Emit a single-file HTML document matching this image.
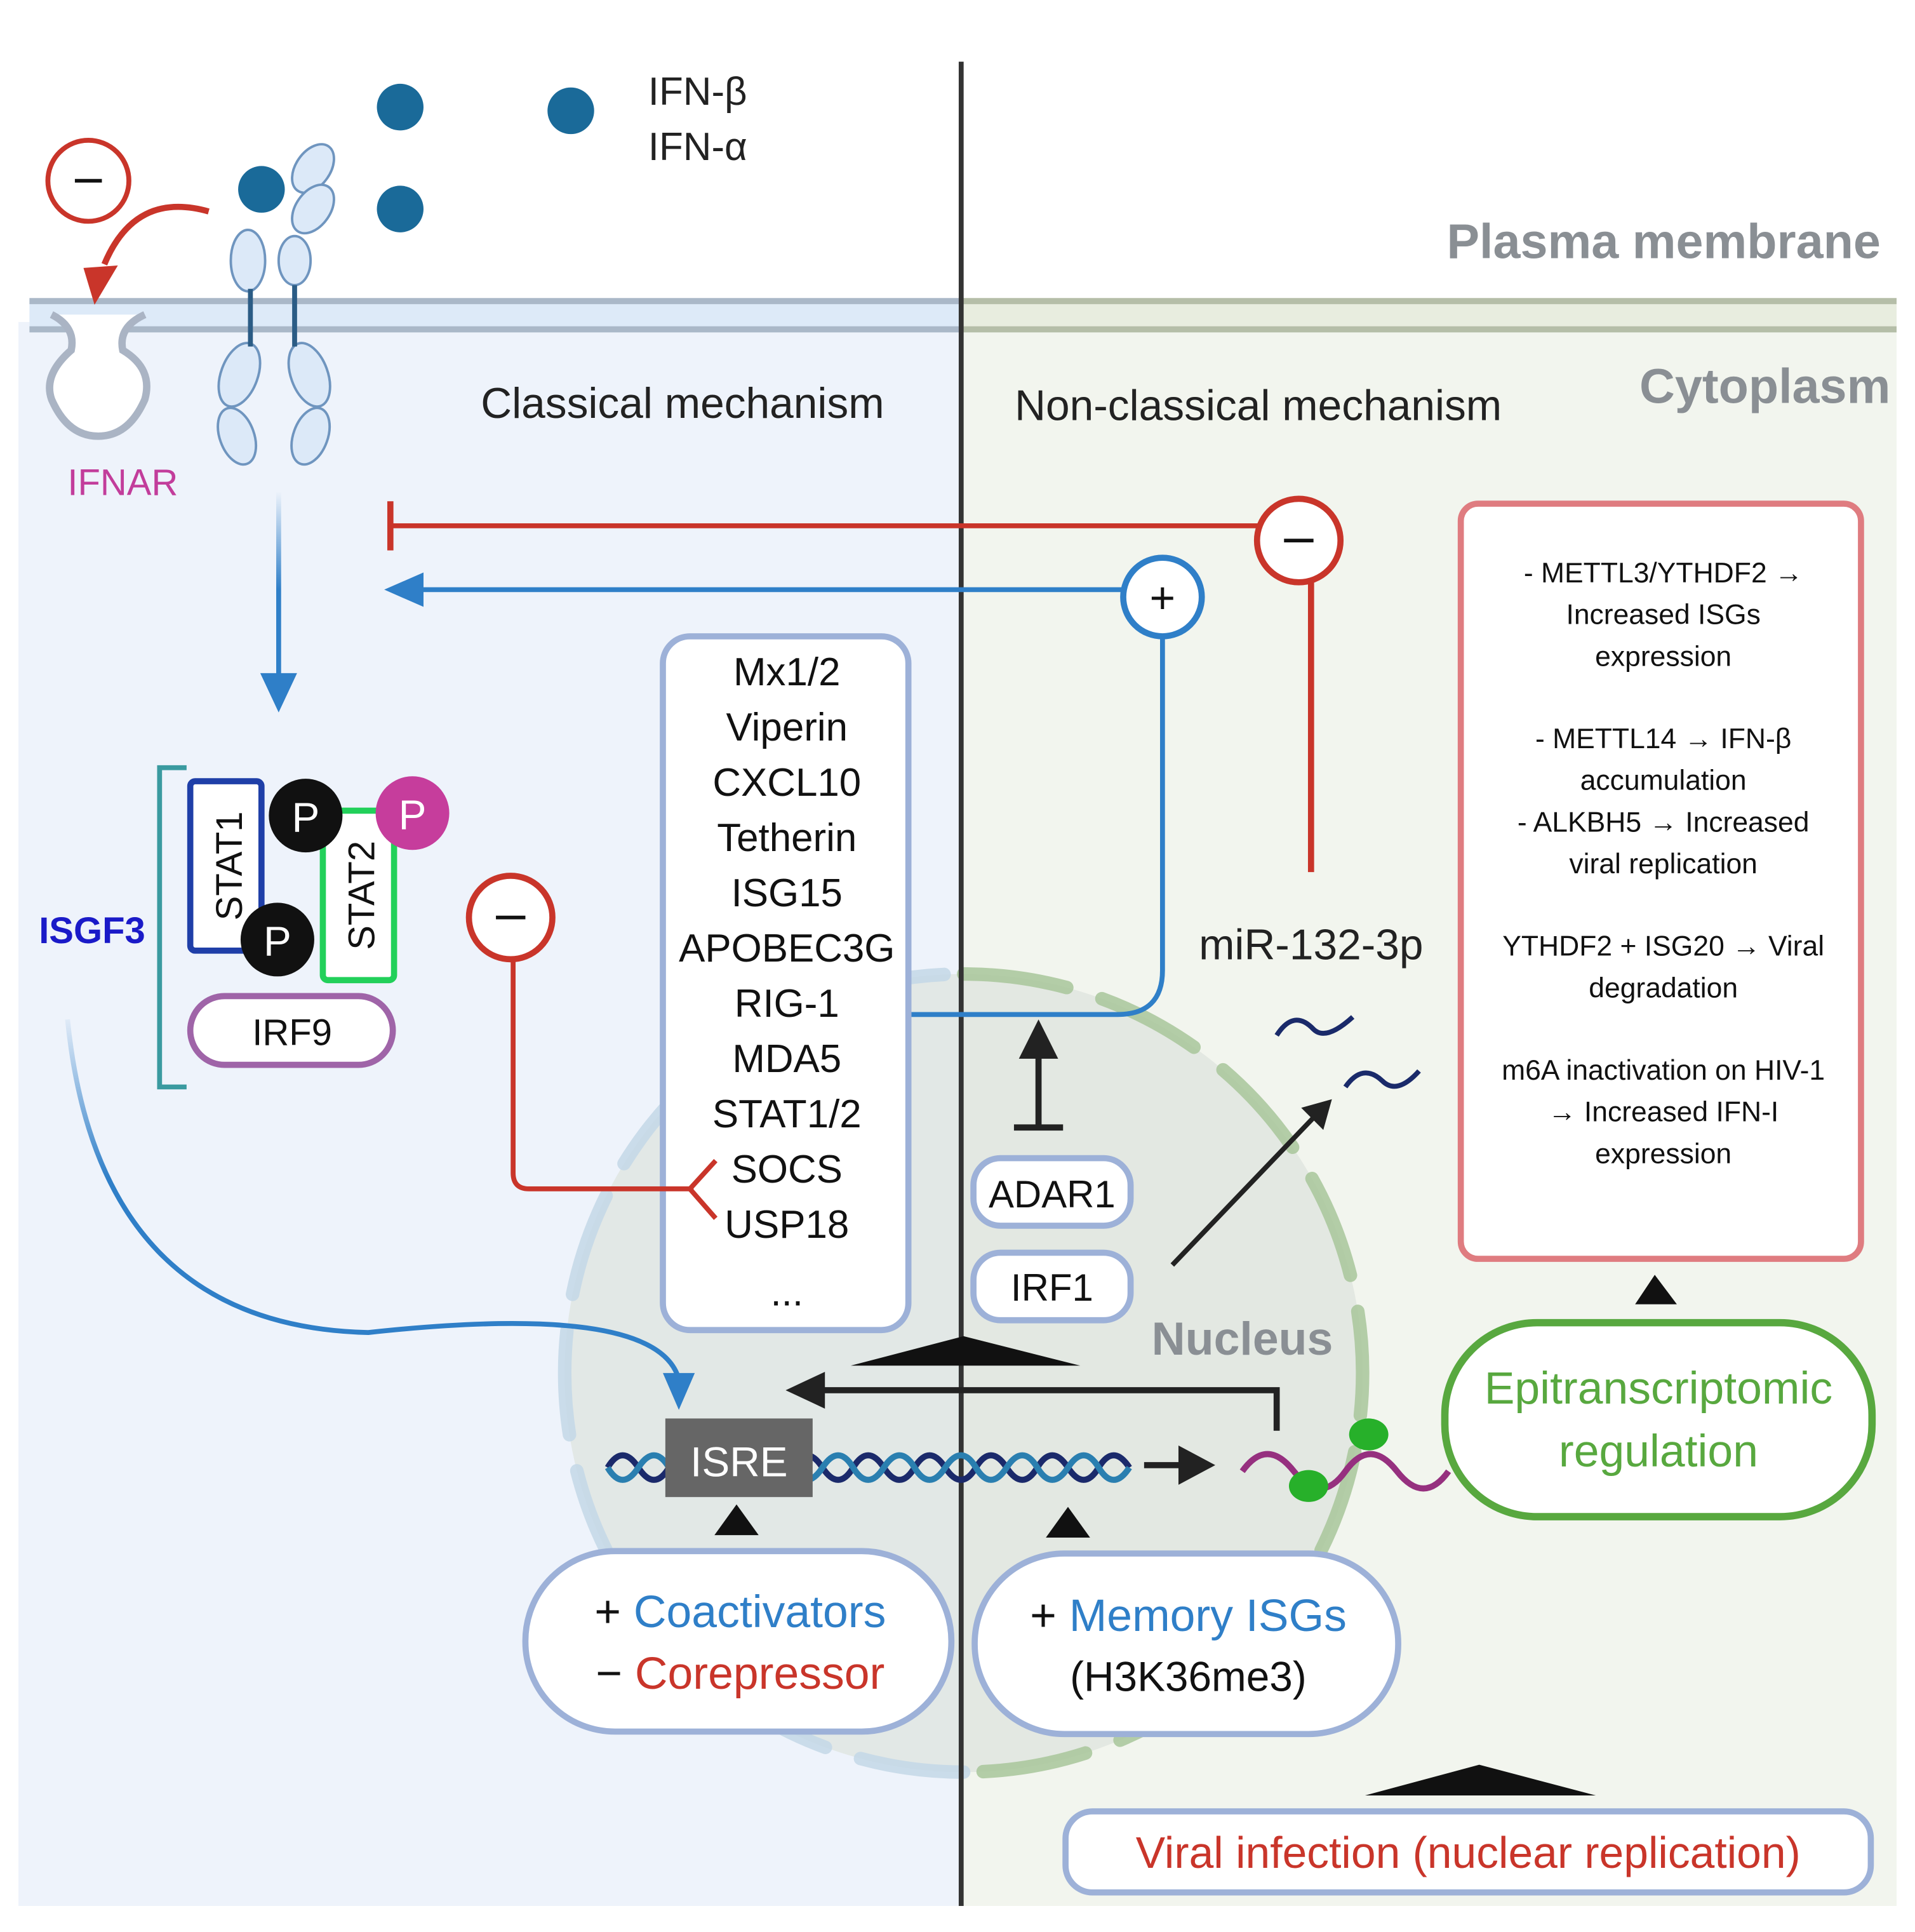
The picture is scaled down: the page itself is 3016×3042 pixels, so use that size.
<!DOCTYPE html>
<html><head><meta charset="utf-8"><style>
html,body{margin:0;padding:0;background:#fff}
svg{display:block}
text{font-family:"Liberation Sans","DejaVu Sans",sans-serif}
</style></head><body>
<svg width="3016" height="3042" viewBox="0 0 1560 1573" xmlns="http://www.w3.org/2000/svg">
<defs>
<linearGradient id="fadeB" gradientUnits="userSpaceOnUse" x1="0" y1="400" x2="0" y2="480"><stop offset="0" stop-color="#2f7fc8" stop-opacity="0"/><stop offset="1" stop-color="#2f7fc8"/></linearGradient>
<linearGradient id="fadeC" gradientUnits="userSpaceOnUse" x1="0" y1="820" x2="0" y2="960"><stop offset="0" stop-color="#2f7fc8" stop-opacity="0"/><stop offset="1" stop-color="#2f7fc8"/></linearGradient>
</defs>
<rect width="1560" height="1573" fill="#fff"/>
<rect x="15" y="262" width="768" height="1290" fill="#eef3fb"/>
<rect x="783" y="262" width="762" height="1290" fill="#f2f5ee"/>
<rect x="24" y="243" width="759" height="27" fill="#ddeaf8"/>
<line x1="24" y1="245" x2="783" y2="245" stroke="#aab8c8" stroke-width="5"/>
<line x1="24" y1="268" x2="783" y2="268" stroke="#aab8c8" stroke-width="5"/>
<rect x="783" y="243" width="762" height="27" fill="#e8eddf"/>
<line x1="783" y1="245" x2="1545" y2="245" stroke="#b5bea8" stroke-width="5"/>
<line x1="783" y1="268" x2="1545" y2="268" stroke="#b5bea8" stroke-width="5"/>
<text x="1532" y="210" text-anchor="end" font-size="40" font-weight="bold" fill="#8a8f94">Plasma membrane</text>
<text x="1540" y="328" text-anchor="end" font-size="40" font-weight="bold" fill="#8a8f94">Cytoplasm</text>
<circle cx="785" cy="1118" r="325" fill="#dde3dd" fill-opacity="0.7"/>
<path d="M785,793 A325,325 0 0 1 785,1443" fill="none" stroke="#a8c69a" stroke-width="11" stroke-dasharray="85 30" stroke-linecap="round" opacity="0.85"/>
<path d="M785,1443 A325,325 0 0 1 785,793" fill="none" stroke="#c3d7e6" stroke-width="11" stroke-dasharray="85 30" stroke-linecap="round" opacity="0.85"/>
<text x="1012" y="1103" text-anchor="middle" font-size="38" font-weight="bold" fill="#8a8f94">Nucleus</text>
<line x1="783" y1="50" x2="783" y2="1552" stroke="#333" stroke-width="4"/>
<circle cx="326" cy="87" r="19" fill="#1a6a99"/>
<circle cx="465" cy="90" r="19" fill="#1a6a99"/>
<circle cx="326" cy="170" r="19" fill="#1a6a99"/>
<circle cx="213" cy="154" r="19" fill="#1a6a99"/>
<text x="528" y="85" font-size="32" fill="#222">IFN-β</text>
<text x="528" y="130" font-size="32" fill="#222">IFN-α</text>
<g fill="#dce9f8" stroke="#6f95bf" stroke-width="2">
<ellipse cx="255" cy="137" rx="14" ry="22" transform="rotate(35 255 137)"/>
<ellipse cx="255" cy="170" rx="14" ry="22" transform="rotate(35 255 170)"/>
<ellipse cx="202" cy="212" rx="14" ry="25"/>
<ellipse cx="240" cy="212" rx="13" ry="20"/>
<ellipse cx="195" cy="305" rx="15" ry="27" transform="rotate(20 195 305)"/>
<ellipse cx="252" cy="305" rx="15" ry="27" transform="rotate(-20 252 305)"/>
<ellipse cx="193" cy="355" rx="14" ry="24" transform="rotate(-20 193 355)"/>
<ellipse cx="253" cy="355" rx="14" ry="24" transform="rotate(20 253 355)"/>
</g>
<line x1="204" y1="235" x2="204" y2="282" stroke="#2b5c85" stroke-width="4"/>
<line x1="240" y1="232" x2="240" y2="282" stroke="#2b5c85" stroke-width="4"/>
<text x="100" y="403" text-anchor="middle" font-size="30" fill="#c23d9b">IFNAR</text>
<path d="M42,256 Q62,266 58,285 Q35,305 42,325 Q55,355 80,355 Q105,355 118,325 Q125,300 100,285 Q96,266 118,256" fill="#fff" stroke="#aab4c4" stroke-width="6"/>
<circle cx="72" cy="147" r="33" fill="#fff" stroke="#c9352a" stroke-width="4"/>
<line x1="61" y1="147" x2="83" y2="147" stroke="#111" stroke-width="3"/>
<path d="M170,172 Q110,155 85,215" fill="none" stroke="#c9352a" stroke-width="5"/>
<polygon points="68,218 96,216 77,248" fill="#c9352a"/>
<text x="556" y="340" text-anchor="middle" font-size="35" fill="#222">Classical mechanism</text>
<text x="1025" y="342" text-anchor="middle" font-size="35" fill="#222">Non-classical mechanism</text>
<rect x="225" y="400" width="4" height="152" fill="url(#fadeB)"/>
<polygon points="212,548 242,548 227,580" fill="#2f7fc8"/>
<line x1="318" y1="428" x2="1025" y2="428" stroke="#c9352a" stroke-width="4"/>
<line x1="318" y1="408" x2="318" y2="448" stroke="#c9352a" stroke-width="5"/>
<circle cx="1058" cy="440" r="34" fill="#fff" stroke="#c9352a" stroke-width="5"/>
<line x1="1046" y1="440" x2="1070" y2="440" stroke="#111" stroke-width="3"/>
<line x1="1068" y1="474" x2="1068" y2="710" stroke="#c9352a" stroke-width="5"/>
<line x1="340" y1="480" x2="915" y2="480" stroke="#2f7fc8" stroke-width="4"/>
<polygon points="345,466 345,494 313,480" fill="#2f7fc8"/>
<circle cx="947" cy="486" r="32" fill="#fff" stroke="#2f7fc8" stroke-width="5"/>
<text x="947" y="499" text-anchor="middle" font-size="36" fill="#111">+</text>
<path d="M947,518 L947,790 Q947,826 910,826 L725,826" fill="none" stroke="#2f7fc8" stroke-width="4"/>
<path d="M713,802 L738,826 L713,850" fill="none" stroke="#2f7fc8" stroke-width="4"/>
<rect x="540" y="518" width="200" height="565" rx="22" fill="#fff" stroke="#9db1d8" stroke-width="5"/>
<g font-size="32" fill="#111" text-anchor="middle">
<text x="641" y="558">Mx1/2</text><text x="641" y="603">Viperin</text><text x="641" y="648">CXCL10</text>
<text x="641" y="693">Tetherin</text><text x="641" y="738">ISG15</text><text x="641" y="783">APOBEC3G</text>
<text x="641" y="828">RIG-1</text><text x="641" y="873">MDA5</text><text x="641" y="918">STAT1/2</text>
<text x="641" y="963">SOCS</text><text x="641" y="1008">USP18</text><text x="641" y="1063">...</text>
</g>
<circle cx="416" cy="747" r="34" fill="#fff" stroke="#c9352a" stroke-width="5"/>
<line x1="404" y1="747" x2="428" y2="747" stroke="#111" stroke-width="3"/>
<path d="M418,781 L418,955 Q418,968 431,968 L565,968" fill="none" stroke="#c9352a" stroke-width="4"/>
<path d="M583,945 L562,968 L583,992" fill="none" stroke="#c9352a" stroke-width="4"/>
<path d="M152,625 L130,625 L130,885 L152,885" fill="none" stroke="#3a9aa0" stroke-width="4"/>
<text x="75" y="768" text-anchor="middle" font-size="30" font-weight="bold" fill="#1a1ac8">ISGF3</text>
<rect x="155" y="636" width="58" height="138" rx="4" fill="#fff" stroke="#1f3fa8" stroke-width="5"/>
<text transform="translate(197 705) rotate(-90)" text-anchor="middle" font-size="30" fill="#111">STAT1</text>
<rect x="263" y="660" width="58" height="138" rx="4" fill="#fff" stroke="#22d05a" stroke-width="5"/>
<text transform="translate(305 729) rotate(-90)" text-anchor="middle" font-size="30" fill="#111">STAT2</text>
<circle cx="249" cy="664" r="30" fill="#111"/><text x="249" y="677" text-anchor="middle" font-size="34" fill="#fff">P</text>
<circle cx="336" cy="662" r="30" fill="#c63d9c"/><text x="336" y="675" text-anchor="middle" font-size="34" fill="#fff">P</text>
<circle cx="226" cy="765" r="30" fill="#111"/><text x="226" y="778" text-anchor="middle" font-size="34" fill="#fff">P</text>
<rect x="155" y="811" width="165" height="56" rx="28" fill="#fff" stroke="#9f64a8" stroke-width="5"/>
<text x="238" y="851" text-anchor="middle" font-size="30" fill="#111">IRF9</text>
<path d="M55,830 Q80,1080 300,1085 Q530,1060 552,1120" fill="none" stroke="url(#fadeC)" stroke-width="4"/>
<polygon points="540,1118 566,1118 553,1148" fill="#2f7fc8"/>
<g fill="none" stroke-width="5">
<path d="M495,1195 q12,-20 25,0 t25,0 t25,0 t25,0 t25,0 t25,0 t25,0 t25,0 t25,0 t25,0 t25,0 t25,0 t25,0 t25,0 t25,0 t25,0 t25,0" stroke="#1b2a6b"/>
<path d="M495,1195 q12,20 25,0 t25,0 t25,0 t25,0 t25,0 t25,0 t25,0 t25,0 t25,0 t25,0 t25,0 t25,0 t25,0 t25,0 t25,0 t25,0 t25,0" stroke="#2a7fb0"/>
</g>
<rect x="542" y="1155" width="120" height="64" fill="#666"/>
<text x="602" y="1202" text-anchor="middle" font-size="34" fill="#fff">ISRE</text>
<line x1="932" y1="1193" x2="965" y2="1193" stroke="#222" stroke-width="5"/>
<polygon points="960,1177 990,1193 960,1209" fill="#222"/>
<path d="M1012,1198 q20,-28 42,0 t42,0 t42,0 t42,0" fill="none" stroke="#96307f" stroke-width="5"/>
<ellipse cx="1066" cy="1210" rx="16" ry="13" fill="#27b02a"/>
<ellipse cx="1115" cy="1168" rx="16" ry="13" fill="#27b02a"/>
<path d="M1040,1165 L1040,1132 L665,1132" fill="none" stroke="#222" stroke-width="5"/>
<polygon points="672,1117 672,1147 640,1132" fill="#222"/>
<polygon points="693,1112 785,1088 880,1112" fill="#111"/>
<rect x="793" y="943" width="128" height="55" rx="22" fill="#fff" stroke="#9db1d8" stroke-width="5"/>
<text x="857" y="983" text-anchor="middle" font-size="31" fill="#111">ADAR1</text>
<rect x="793" y="1020" width="128" height="55" rx="22" fill="#fff" stroke="#9db1d8" stroke-width="5"/>
<text x="857" y="1059" text-anchor="middle" font-size="31" fill="#111">IRF1</text>
<line x1="846" y1="855" x2="846" y2="918" stroke="#222" stroke-width="5"/>
<line x1="826" y1="918" x2="866" y2="918" stroke="#222" stroke-width="5"/>
<polygon points="830,862 862,862 846,830" fill="#222"/>
<text x="1068" y="781" text-anchor="middle" font-size="35" fill="#222">miR-132-3p</text>
<path d="M1040,843 q14,-22 30,-5 q10,10 32,-10" fill="none" stroke="#1a2a6a" stroke-width="4"/>
<path d="M1096,885 q14,-20 30,-5 q12,12 30,-8" fill="none" stroke="#1a2a6a" stroke-width="4"/>
<line x1="955" y1="1030" x2="1070" y2="910" stroke="#222" stroke-width="4"/>
<polygon points="1060,902 1085,895 1078,920" fill="#222"/>
<rect x="1190" y="410" width="326" height="615" rx="14" fill="#fff" stroke="#df7c80" stroke-width="5"/>
<g font-size="23" fill="#111" text-anchor="middle">
<text x="1355" y="474">- METTL3/YTHDF2  →</text><text x="1355" y="508">Increased ISGs</text><text x="1355" y="542">expression</text>
<text x="1355" y="609">- METTL14 → IFN-β</text><text x="1355" y="643">accumulation</text>
<text x="1355" y="677">- ALKBH5 → Increased</text><text x="1355" y="711">viral replication</text>
<text x="1355" y="778">YTHDF2 + ISG20  → Viral</text><text x="1355" y="812">degradation</text>
<text x="1355" y="879">m6A inactivation on HIV-1</text><text x="1355" y="913">→ Increased IFN-I</text><text x="1355" y="947">expression</text>
</g>
<polygon points="1332,1062 1348,1038 1366,1062" fill="#111"/>
<rect x="1177" y="1077" width="348" height="158" rx="75" fill="#fff" stroke="#58a83f" stroke-width="6"/>
<text x="1351" y="1143" text-anchor="middle" font-size="37" fill="#58a83f">Epitranscriptomic</text>
<text x="1351" y="1194" text-anchor="middle" font-size="37" fill="#58a83f">regulation</text>
<polygon points="582,1250 600,1225 618,1250" fill="#111"/>
<polygon points="852,1252 870,1227 888,1252" fill="#111"/>
<rect x="428" y="1263" width="347" height="147" rx="73" fill="#fff" stroke="#9db1d8" stroke-width="5"/>
<text x="603" y="1325" text-anchor="middle" font-size="37"><tspan fill="#111">+ </tspan><tspan fill="#2f7fc8">Coactivators</tspan></text>
<text x="603" y="1375" text-anchor="middle" font-size="37"><tspan fill="#111">− </tspan><tspan fill="#c9352a">Corepressor</tspan></text>
<rect x="794" y="1265" width="345" height="147" rx="73" fill="#fff" stroke="#9db1d8" stroke-width="5"/>
<text x="968" y="1328" text-anchor="middle" font-size="37"><tspan fill="#111">+ </tspan><tspan fill="#2f7fc8">Memory ISGs</tspan></text>
<text x="968" y="1377" text-anchor="middle" font-size="34" fill="#111">(H3K36me3)</text>
<polygon points="1112,1462 1205,1437 1300,1462" fill="#111"/>
<rect x="868" y="1475" width="656" height="66" rx="22" fill="#fff" stroke="#9db1d8" stroke-width="5"/>
<text x="1196" y="1521" text-anchor="middle" font-size="36" fill="#c9352a">Viral infection (nuclear replication)</text>
</svg>
</body></html>
